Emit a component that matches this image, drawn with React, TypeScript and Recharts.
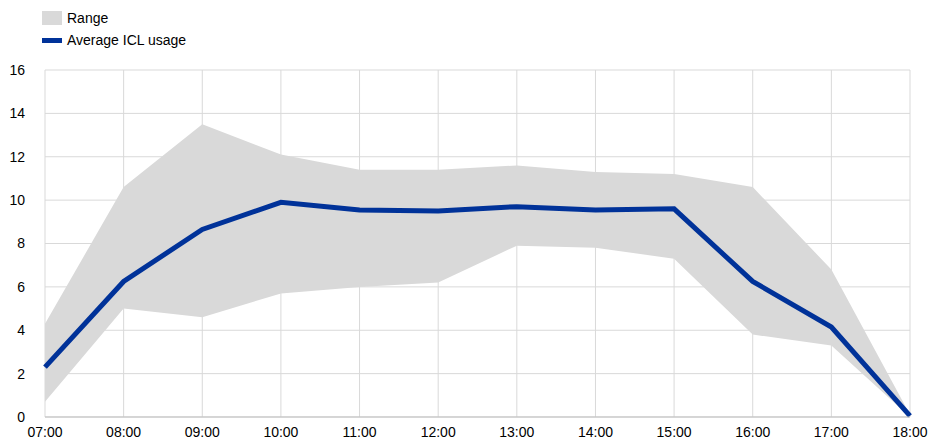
import { ComposedChart, Area, Line, XAxis, YAxis, CartesianGrid } from 'recharts'

const hours = ['07:00', '08:00', '09:00', '10:00', '11:00', '12:00', '13:00', '14:00', '15:00', '16:00', '17:00', '18:00']
const rangeLow = [0.7, 5.0, 4.6, 5.7, 6.0, 6.2, 7.9, 7.8, 7.3, 3.8, 3.3, 0]
const rangeHigh = [4.3, 10.6, 13.5, 12.1, 11.4, 11.4, 11.6, 11.3, 11.2, 10.6, 6.8, 0.1]
const average = [2.3, 6.25, 8.65, 9.9, 9.55, 9.5, 9.7, 9.55, 9.6, 6.25, 4.15, 0.05]
const yTicks = [0, 2, 4, 6, 8, 10, 12, 14, 16]

const data = hours.map((h, i) => ({ hour: h, range: [rangeLow[i], rangeHigh[i]], avg: average[i] }))

const font = 'Arial, "Liberation Sans", sans-serif'

export default function App() {
  return (
    <div style={{ position: 'absolute', left: 0, top: 0, width: 931, height: 443, background: '#fff', fontFamily: font }}>
      <div style={{ position: 'absolute', left: 67, top: 7, fontSize: 14, color: '#000', lineHeight: '22px' }}>
        <div style={{ display: 'flex', alignItems: 'center' }}>
          <span style={{ position: 'absolute', left: -25, width: 20, height: 14, background: '#d9d9d9' }} />
          Range
        </div>
        <div style={{ display: 'flex', alignItems: 'center' }}>
          <span style={{ position: 'absolute', left: -25, width: 20, height: 5, background: '#003299' }} />
          Average ICL usage
        </div>
      </div>
      <ComposedChart width={931} height={443} data={data} margin={{ top: 70, right: 21, left: 0, bottom: 0 }}>
        <CartesianGrid stroke="#d9d9d9" />
        <XAxis dataKey="hour" height={26} tick={{ fill: '#000', fontSize: 14, fontFamily: font }} tickLine={false} axisLine={{ stroke: '#bfbfbf' }} tickMargin={4} interval={0} />
        <YAxis domain={[0, 16]} ticks={yTicks} width={45} tick={{ fill: '#000', fontSize: 14, fontFamily: font }} tickLine={false} axisLine={false} tickMargin={14} />
        <Area dataKey="range" type="linear" fill="#d9d9d9" fillOpacity={1} stroke="none" isAnimationActive={false} />
        <Line dataKey="avg" type="linear" stroke="#003299" strokeWidth={5} dot={false} isAnimationActive={false} />
      </ComposedChart>
    </div>
  )
}
